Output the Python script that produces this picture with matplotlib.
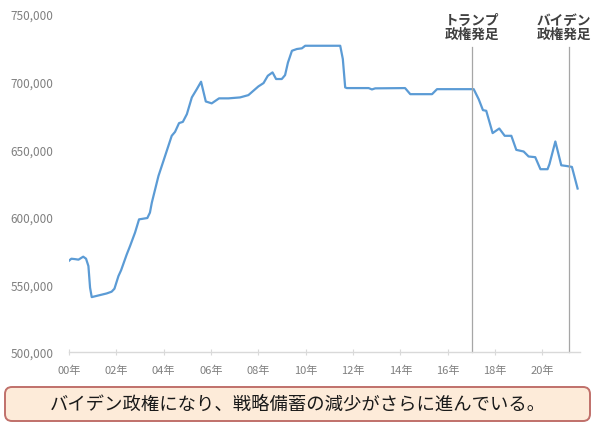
import matplotlib
matplotlib.use("Agg")
import matplotlib.pyplot as plt
from matplotlib.patches import FancyBboxPatch
from matplotlib.transforms import IdentityTransform
from matplotlib.ticker import FuncFormatter

plt.rcParams['font.family'] = ['Noto Sans CJK JP', 'DejaVu Sans']

# years since 2000
years = [0.0, 0.1, 0.25, 0.4, 0.6, 0.72, 0.82, 0.89, 0.96, 1.31, 1.59, 1.8, 1.92,
         2.09, 2.2, 2.44, 2.58, 2.79, 2.96, 3.31, 3.42, 3.5, 3.78, 3.99, 4.34,
         4.48, 4.65, 4.81, 4.98, 5.19, 5.4, 5.58, 5.78, 6.03, 6.34, 6.74, 7.23,
         7.58, 7.79, 8.0, 8.22, 8.4, 8.6, 8.75, 8.99, 9.13, 9.25, 9.42, 9.63,
         9.84, 9.98, 11.46, 11.57, 11.67, 11.74, 12.66, 12.8, 12.94, 14.2,
         14.42, 15.34, 15.55, 17.1, 17.31, 17.49, 17.63, 17.9, 18.18, 18.41,
         18.69, 18.9, 19.21, 19.42, 19.7, 19.92, 20.22, 20.3, 20.55, 20.8,
         21.01, 21.25, 21.49]
reserves = [567500, 569000, 568700, 568300, 570500, 569000, 563600, 547600,
            540600, 542100, 543300, 544600, 546800, 556200, 560400, 572200,
            578400, 588300, 598100, 599100, 603100, 610500, 630200, 641300,
            659900, 662800, 669300, 670200, 675900, 688300, 694400, 699900,
            685300, 683900, 687600, 687600, 688300, 690000, 693200, 696400,
            698900, 704300, 706800, 701900, 701900, 704800, 714000, 722800,
            724100, 724600, 726500, 726500, 716700, 695700, 695200, 695200,
            694200, 695000, 695200, 690700, 690700, 694400, 694400, 687000,
            678900, 678400, 661900, 665300, 659900, 659900, 649500, 648300,
            644600, 644100, 635200, 635200, 638900, 655700, 638100, 637600,
            636900, 620900]

event_x = [17.03, 21.11]
event_labels = ["トランプ\n政権発足", "バイデン\n政権発足"]
event_label_x = [17.03, 20.9]

xticks = [0, 2, 4, 6, 8, 10, 12, 14, 16, 18, 20]
xtick_labels = ["00年", "02年", "04年", "06年", "08年", "10年", "12年", "14年",
                "16年", "18年", "20年"]
yticks = [500000, 550000, 600000, 650000, 700000, 750000]

caption = "バイデン政権になり、戦略備蓄の減少がさらに進んでいる。"

fig = plt.figure(figsize=(6.0, 4.27), dpi=100)
ax = fig.add_axes([0.115, 0.1733, 0.852, 0.7916])

ax.plot(years, reserves, color="#5B9BD5", lw=1.6, solid_joinstyle="round")

for ex in event_x:
    ax.plot([ex, ex], [500000, 725500], color="#A6A6A6", lw=0.9, clip_on=False)

for lx, lab in zip(event_label_x, event_labels):
    ax.text(lx, 740500, lab, ha="center", va="center", fontsize=9.8,
            color="#404040", linespacing=1.0, fontweight="semibold")

ax.set_xlim(0, 21.6)
ax.set_ylim(500000, 750000)
ax.set_xticks(xticks)
ax.set_xticklabels(xtick_labels)
ax.set_yticks(yticks)
ax.yaxis.set_major_formatter(FuncFormatter(lambda v, p: f"{int(v):,}"))

for s in ["top", "right", "left"]:
    ax.spines[s].set_visible(False)
ax.spines["bottom"].set_color("#D9D9D9")
ax.spines["bottom"].set_linewidth(1.0)

ax.tick_params(axis="x", direction="inout", length=4, width=0.8, color="#D9D9D9",
               labelsize=8, labelcolor="#808080", pad=7)
ax.tick_params(axis="y", length=0, labelsize=8.5, labelcolor="#808080", pad=11)

box = FancyBboxPatch((5, 5), 585, 34, boxstyle="round,pad=0,rounding_size=7",
                     transform=IdentityTransform(), facecolor="#FDEBD9",
                     edgecolor="#C0706A", linewidth=1.4)
fig.patches.append(box)
fig.text(0.497, 0.0515, caption, ha="center", va="center", fontsize=13.2,
         color="#1A1A1A")

fig.savefig("out.png", dpi=100)
